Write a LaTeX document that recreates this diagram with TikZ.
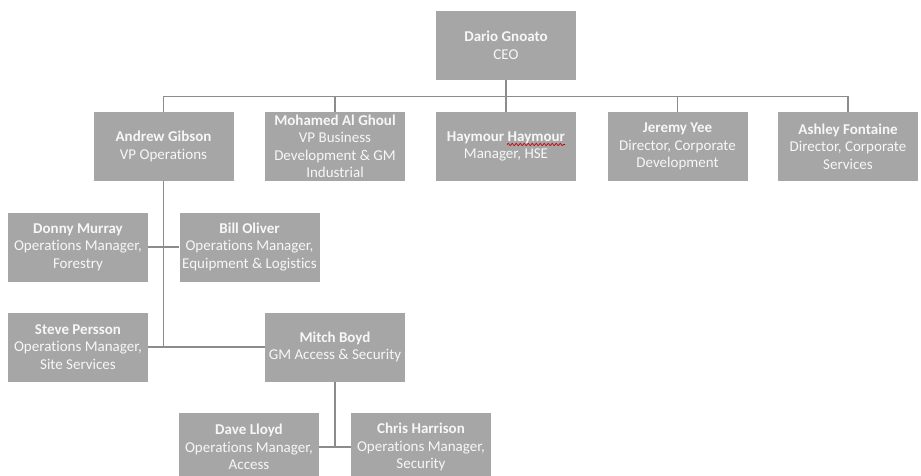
\documentclass[tikz,border=0pt]{standalone}
\usepackage{fontspec}
\setmainfont{Carlito}[Ligatures=NoCommon]
\usetikzlibrary{decorations.pathmorphing}
\definecolor{boxgray}{HTML}{A6A6A6}
\definecolor{linegray}{HTML}{8C8C8C}
\definecolor{txt}{HTML}{F7F7F7}
\tikzset{
  orgbox/.style={rectangle, fill=boxgray, minimum width=140pt, minimum height=69pt,
    inner sep=0pt, align=center, text=txt,
    font=\fontsize{15}{17.5}\selectfont},
  link/.style={draw=linegray, line width=1.4pt}
}
\newcommand{\nm}[1]{\textbf{#1}}
\begin{document}
\begin{tikzpicture}[x=1pt,y=-1pt]
\path[use as bounding box, fill=white] (0,0) rectangle (921,475);
\node[orgbox] (ceo) at (506,45.5) {\nm{Dario Gnoato}\\CEO};
\node[orgbox] (andrew) at (163.5,146.5) {\nm{Andrew Gibson}\\VP Operations};
\node[orgbox] (mohamed) at (335,146.5) {\nm{Mohamed Al Ghoul}\\VP Business\\Development \& GM\\Industrial};
\node[orgbox] (haymour) at (506,146.5) {\nm{Haymour Haymour}\\Manager, HSE};
\node[orgbox] (jeremy) at (677.5,146.5) {\nm{Jeremy Yee}\\Director, Corporate\\Development};
\node[orgbox] (ashley) at (848,146.5) {\nm{Ashley Fontaine}\\Director, Corporate\\Services};
\node[orgbox] (donny) at (78,247) {\nm{Donny Murray}\\Operations Manager,\\Forestry};
\node[orgbox] (bill) at (249.5,247) {\nm{Bill Oliver}\\Operations Manager,\\Equipment \& Logistics};
\node[orgbox] (steve) at (78,347) {\nm{Steve Persson}\\Operations Manager,\\Site Services};
\node[orgbox] (mitch) at (335,347) {\nm{Mitch Boyd}\\GM Access \& Security};
\node[orgbox] (dave) at (249,447) {\nm{Dave Lloyd}\\Operations Manager,\\Access};
\node[orgbox] (chris) at (421,447) {\nm{Chris Harrison}\\Operations Manager,\\Security};
% spell-check underline
\coordinate (wa) at ([xshift=1pt,yshift=2pt]haymour.center);
\draw[red!80!black, line width=0.7pt, decorate, decoration={snake, amplitude=1.1pt, segment length=4pt}]
  (wa) -- ++(58,0);
% connectors
\coordinate (bus) at ([yshift=-16pt]ceo.south);
\draw[link] (ceo.south) -- (bus);
\draw[link] (andrew.north) |- (bus) -| (ashley.north);
\draw[link] (mohamed.north) -- (mohamed.north |- bus);
\draw[link] (haymour.north) -- (haymour.north |- bus);
\draw[link] (jeremy.north) -- (jeremy.north |- bus);
\draw[link] (andrew.south) |- (mitch.west);
\draw[link] (steve.east) -- (steve.east -| andrew.south);
\draw[link] (donny.east) -- (bill.west);
\draw[link] (mitch.south) -- (mitch.south |- dave.east);
\draw[link] (dave.east) -- (chris.west);
\end{tikzpicture}
\end{document}
